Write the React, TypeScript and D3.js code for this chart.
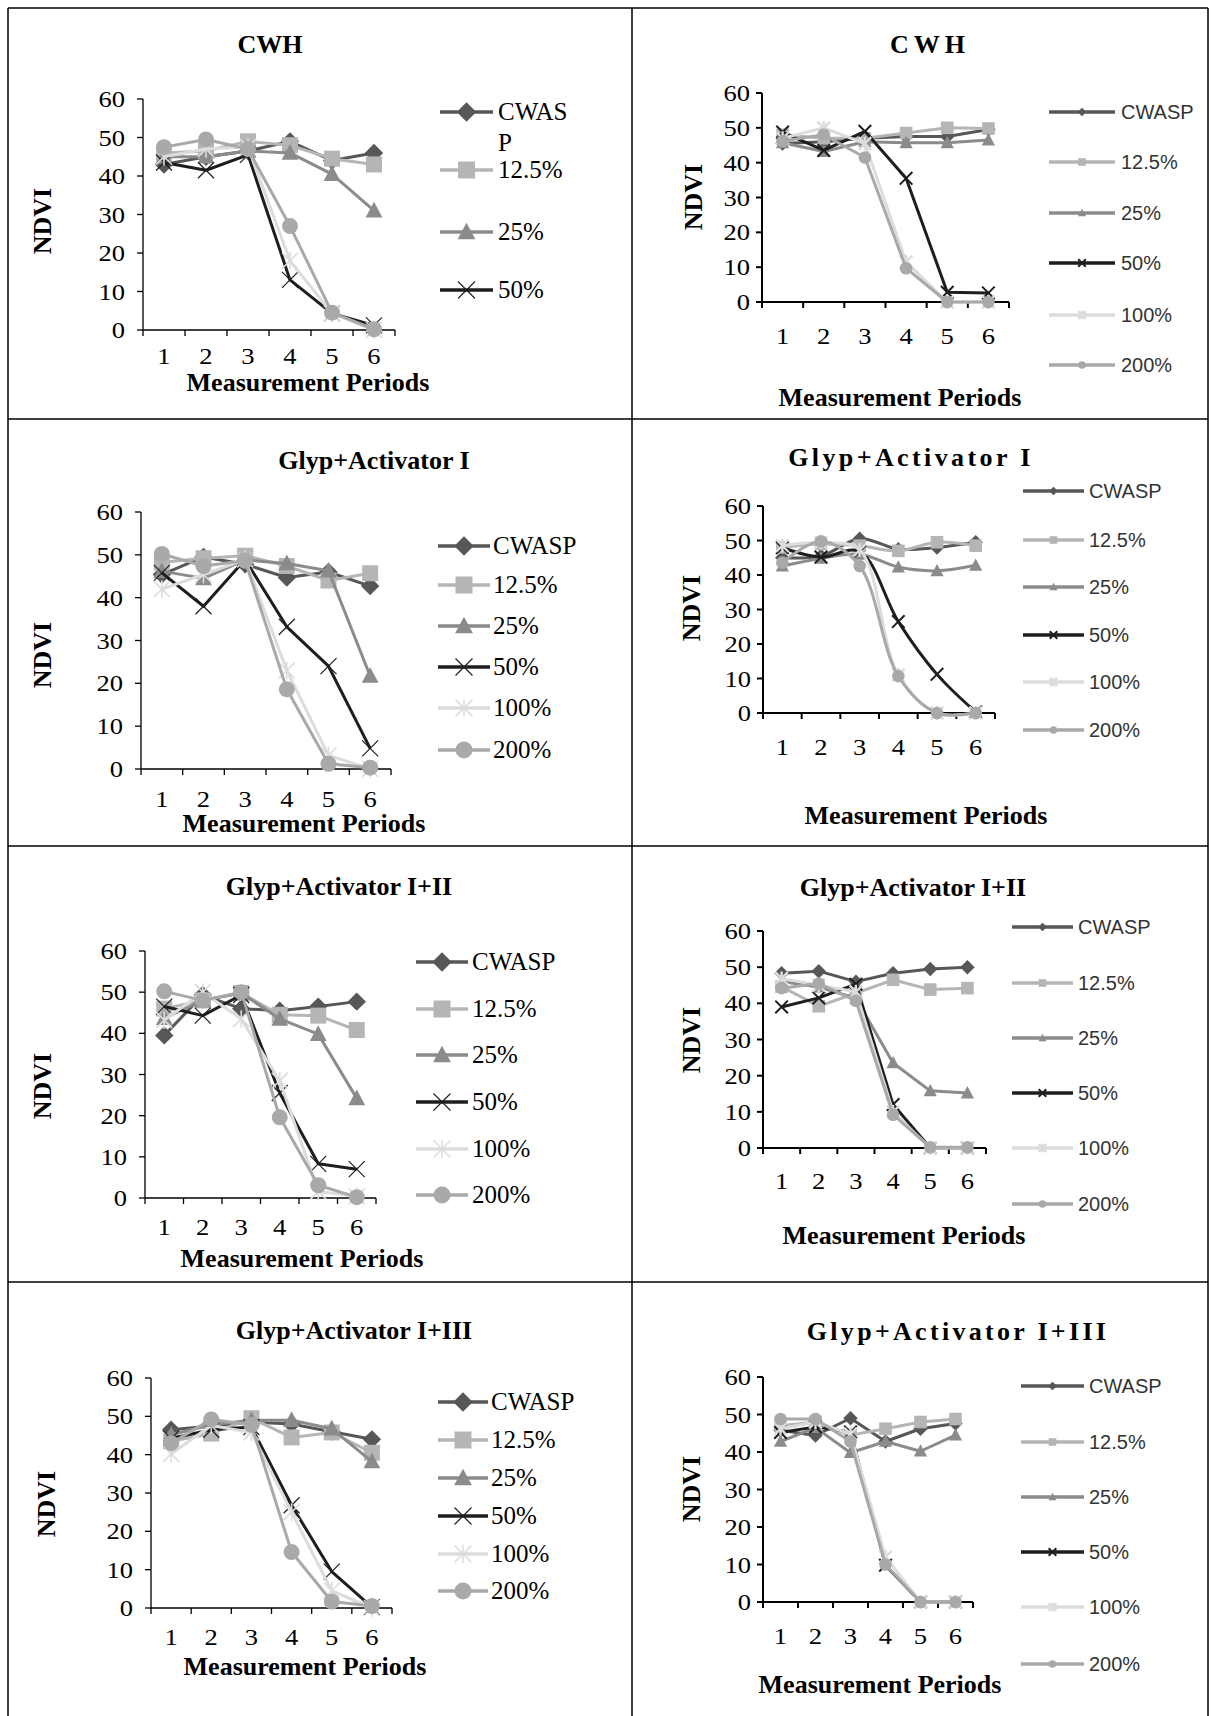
import React from "react";
import * as d3 from "d3";

const periods = [1, 2, 3, 4, 5, 6];
const yTicks = [0, 10, 20, 30, 40, 50, 60];
const seriesNames = ["CWASP", "12.5%", "25%", "50%", "100%", "200%"];
const seriesColors = ["#575757", "#b5b5b5", "#8b8b8b", "#1e1e1e", "#dcdcdc", "#a9a9a9"];
const seriesShapes = ["diamond", "square", "triangle", "x", "asterisk", "circle"];

// NDVI values, one row per series (CWASP, 12.5%, 25%, 50%, 100%, 200%)
const cwhA = [
  [43, 45, 46.5, 49, 44, 46],
  [46, 46.5, 49, 48, 44.5, 43],
  [45, 45, 46.5, 46, 40.5, 31],
  [43.5, 41.5, 45.5, 13, 4.3, 1.2],
  [45, 47, 47.5, 18, 4.3, 0],
  [47.5, 49.5, 47, 27, 4.5, 0.2],
];
const cwhB = [
  [45.5, 46, 47, 47.5, 47.5, 49.5],
  [48, 47, 47, 48.5, 50, 49.8],
  [45.7, 43.2, 46, 45.7, 45.7, 46.5],
  [48.8, 43.5, 49, 35.5, 2.8, 2.6],
  [47, 50, 45.5, 11.5, 0, 0],
  [46.2, 48, 41.5, 9.7, 0, 0],
];
const act1A = [
  [45.4, 49.5, 47.8, 44.7, 46, 42.7],
  [48.2, 49.2, 49.8, 47.4, 44, 45.7],
  [46.2, 44.5, 48.8, 48, 46.3, 21.7],
  [45.8, 38, 48.9, 33.2, 24, 4.8],
  [42, 45.4, 48.9, 23, 3.2, 0],
  [50.2, 47.4, 48.6, 18.6, 1.2, 0.3],
];
const act1B = [
  [45, 45.5, 50.5, 47.5, 48, 49.5],
  [48, 49, 48.5, 47, 49.5, 48.5],
  [42.6, 44.8, 46, 42.3, 41.2, 42.8],
  [47.9, 45.2, 46.8, 26.5, 11.2, 0.3],
  [48.5, 49.4, 47.2, 11, 0, 0],
  [43.6, 49.8, 42.6, 10.7, 0, 0],
];
const act12A = [
  [39.5, 49.3, 46, 45.5, 46.5, 47.7],
  [46, 48, 49.8, 44.5, 44.3, 40.8],
  [43.7, 48, 49.8, 43.5, 39.8, 24.2],
  [46.5, 44.3, 49.3, 25.5, 8.3, 7],
  [43.2, 50, 43.5, 28.5, 1.6, 0.4],
  [50.2, 48, 50, 19.6, 3.1, 0.2],
];
const act12B = [
  [48.3, 48.9, 46, 48.3, 49.5, 50],
  [44.6, 39.2, 42.8, 46.5, 43.8, 44.2],
  [46, 44.5, 41.4, 23.5, 15.8, 15.2],
  [39, 41.5, 45.3, 12, 0, 0],
  [46.9, 45, 43.2, 10, 0, 0],
  [44.2, 45.5, 40.7, 9.2, 0.2, 0.2],
];
const act13A = [
  [46.5, 47.5, 48.5, 48, 46, 44],
  [43.5, 45.5, 49.5, 44.5, 45.8, 40.5],
  [45.2, 47.8, 49, 49, 46.8, 38.2],
  [44.2, 46.5, 47.2, 26.8, 9.5, 0.2],
  [40.2, 47.6, 45.8, 25, 4.5, 0],
  [43, 49.2, 47.8, 14.6, 1.7, 0.5],
];
const act13B = [
  [45.8, 44.4, 49, 42.8, 46.2, 47.6],
  [47, 48, 44.5, 46.2, 48, 48.8],
  [42.8, 46.5, 39.8, 42.8, 40.2, 44.5],
  [45.2, 46.7, 45.3, 9.8, 0, 0],
  [46.2, 48, 44.8, 12, 0, 0],
  [48.8, 48.8, 42.8, 10, 0, 0],
];

const titles = [
  "CWH", "CWH",
  "Glyp+Activator I", "Glyp+Activator I",
  "Glyp+Activator I+II", "Glyp+Activator I+II",
  "Glyp+Activator I+III", "Glyp+Activator I+III",
];
const panelData = [cwhA, cwhB, act1A, act1B, act12A, act12B, act13A, act13B];

// layout (positions / styles only)
const layouts = [
  { side: "L", titleX: 270, titleY: 53, spacing: 0, x0: 143, x1: 395, yTop: 99, yBot: 330, ndviX: 42, ndviY: 221, xlabY: 364, mpX: 308, mpY: 391, legX0: 440, legX1: 493, legTextX: 498, legYs: [112, 170, 232, 290], legCount: 4, wrap: true, smooth: false },
  { side: "R", titleX: 930, titleY: 53, spacing: 5, x0: 762, x1: 1009, yTop: 93, yBot: 302, ndviX: 693, ndviY: 197, xlabY: 344, mpX: 900, mpY: 406, legX0: 1049, legX1: 1115, legTextX: 1121, legYs: [112, 162, 213, 263, 315, 365], legCount: 6, wrap: false, smooth: false },
  { side: "L", titleX: 374, titleY: 469, spacing: 0, x0: 141, x1: 391, yTop: 512, yBot: 769, ndviX: 42, ndviY: 655, xlabY: 807, mpX: 304, mpY: 832, legX0: 438, legX1: 490, legTextX: 493, legYs: [546, 585, 626, 667, 708, 750], legCount: 6, wrap: false, smooth: false },
  { side: "R", titleX: 911, titleY: 466, spacing: 3.4, x0: 763, x1: 995, yTop: 506, yBot: 713, ndviX: 691, ndviY: 608, xlabY: 755, mpX: 926, mpY: 824, legX0: 1023, legX1: 1084, legTextX: 1089, legYs: [491, 540, 587, 635, 682, 730], legCount: 6, wrap: false, smooth: true },
  { side: "L", titleX: 339, titleY: 895, spacing: 0, x0: 145, x1: 376, yTop: 951, yBot: 1198, ndviX: 42, ndviY: 1086, xlabY: 1235, mpX: 302, mpY: 1267, legX0: 416, legX1: 468, legTextX: 472, legYs: [962, 1009, 1055, 1102, 1149, 1195], legCount: 6, wrap: false, smooth: false },
  { side: "R", titleX: 913, titleY: 896, spacing: 0, x0: 763, x1: 986, yTop: 931, yBot: 1148, ndviX: 691, ndviY: 1040, xlabY: 1189, mpX: 904, mpY: 1244, legX0: 1012, legX1: 1073, legTextX: 1078, legYs: [927, 983, 1038, 1093, 1148, 1204], legCount: 6, wrap: false, smooth: false },
  { side: "L", titleX: 354, titleY: 1339, spacing: 0, x0: 151, x1: 392, yTop: 1378, yBot: 1608, ndviX: 46, ndviY: 1504, xlabY: 1645, mpX: 305, mpY: 1675, legX0: 438, legX1: 488, legTextX: 491, legYs: [1402, 1440, 1478, 1516, 1554, 1591], legCount: 6, wrap: false, smooth: false },
  { side: "R", titleX: 958, titleY: 1340, spacing: 3.3, x0: 763, x1: 973, yTop: 1377, yBot: 1602, ndviX: 691, ndviY: 1489, xlabY: 1644, mpX: 880, mpY: 1693, legX0: 1021, legX1: 1084, legTextX: 1089, legYs: [1386, 1442, 1497, 1552, 1607, 1664], legCount: 6, wrap: false, smooth: false },
];

const SERIF = "'Liberation Serif', 'Times New Roman', serif";
const SANS = "'Liberation Sans', Arial, sans-serif";

function Marker({ shape, cx, cy, h, color, sw }: any) {
  if (shape === "diamond") {
    const k = h * 1.15;
    return <path d={`M${cx},${cy - k}L${cx + k},${cy}L${cx},${cy + k}L${cx - k},${cy}Z`} fill={color} />;
  }
  if (shape === "square") return <rect x={cx - h} y={cy - h} width={2 * h} height={2 * h} fill={color} />;
  if (shape === "triangle")
    return <path d={`M${cx},${cy - h * 1.1}L${cx + h * 1.05},${cy + h * 0.85}L${cx - h * 1.05},${cy + h * 0.85}Z`} fill={color} />;
  if (shape === "x")
    return <path d={`M${cx - h},${cy - h}L${cx + h},${cy + h}M${cx - h},${cy + h}L${cx + h},${cy - h}`} stroke={color} strokeWidth={sw} fill="none" />;
  if (shape === "asterisk")
    return (
      <path
        d={`M${cx - h},${cy - h}L${cx + h},${cy + h}M${cx - h},${cy + h}L${cx + h},${cy - h}M${cx},${cy - h * 1.1}L${cx},${cy + h * 1.1}`}
        stroke={color}
        strokeWidth={sw + 0.4}
        fill="none"
      />
    );
  return <circle cx={cx} cy={cy} r={h} fill={color} />;
}

function Panel({ idx }: { idx: number }) {
  const L: any = layouts[idx];
  const data = panelData[idx];
  const left = L.side === "L";
  const x = d3.scaleBand<number>().domain(periods).range([L.x0, L.x1]).padding(0);
  const bw = x.bandwidth();
  const cx = (p: number) => (x(p) as number) + bw / 2;
  const y = d3.scaleLinear().domain([0, 60]).range([L.yBot, L.yTop]);
  const line = d3
    .line<number>()
    .x((_, i) => cx(periods[i]))
    .y((v) => y(v))
    .curve(L.smooth ? d3.curveCatmullRom.alpha(0.5) : d3.curveLinear);
  const hPlot = left ? 8 : 6.3;
  const hLeg = left ? 8.5 : 3.8;
  const lw = 3;
  const axisW = left ? 1.3 : 2;
  const tickEdges = [...periods.map((p) => x(p) as number), L.x1];
  const tickLabX = L.x0 - (left ? 18 : 12);

  return (
    <g>
      <text x={L.titleX} y={L.titleY} textAnchor="middle" fontFamily={SERIF} fontWeight="bold" fontSize={26} letterSpacing={L.spacing}>
        {titles[idx]}
      </text>
      <text transform={`translate(${L.ndviX + 9},${L.ndviY}) rotate(-90)`} textAnchor="middle" fontFamily={SERIF} fontWeight="bold" fontSize={26}>
        NDVI
      </text>
      {/* y axis */}
      <line x1={L.x0} x2={L.x0} y1={y(60)} y2={y(0)} stroke="#000" strokeWidth={axisW} />
      {yTicks.map((t) => (
        <g key={t}>
          <line x1={L.x0 - 6} x2={L.x0} y1={y(t)} y2={y(t)} stroke="#000" strokeWidth={axisW} />
          <text transform={`translate(${tickLabX},${y(t) + 8}) scale(1.18,1)`} textAnchor="end" fontFamily={SERIF} fontSize={22.5}>
            {t}
          </text>
        </g>
      ))}
      {/* x axis */}
      <line x1={L.x0} x2={L.x1} y1={y(0)} y2={y(0)} stroke="#000" strokeWidth={axisW} />
      {tickEdges.map((tx, i) => (
        <line key={i} x1={tx} x2={tx} y1={y(0)} y2={y(0) + 6} stroke="#000" strokeWidth={axisW} />
      ))}
      {periods.map((p) => (
        <text key={p} transform={`translate(${cx(p)},${L.xlabY}) scale(1.18,1)`} textAnchor="middle" fontFamily={SERIF} fontSize={22.5}>
          {p}
        </text>
      ))}
      <text x={L.mpX} y={L.mpY} textAnchor="middle" fontFamily={SERIF} fontWeight="bold" fontSize={26}>
        Measurement Periods
      </text>
      {/* series */}
      {data.map((vals, s) => (
        <g key={s}>
          <path d={line(vals) as string} fill="none" stroke={seriesColors[s]} strokeWidth={lw} strokeLinejoin="round" />
          {vals.map((v, i) => (
            <Marker key={i} shape={seriesShapes[s]} cx={cx(periods[i])} cy={y(v)} h={hPlot} color={seriesColors[s]} sw={left ? 1.2 : 2} />
          ))}
        </g>
      ))}
      {/* legend */}
      {seriesNames.slice(0, L.legCount).map((name, s) => {
        const ly = L.legYs[s];
        const mx = (L.legX0 + L.legX1) / 2;
        return (
          <g key={name}>
            <line x1={L.legX0} x2={L.legX1} y1={ly} y2={ly} stroke={seriesColors[s]} strokeWidth={lw + 0.5} />
            <Marker shape={seriesShapes[s]} cx={mx} cy={ly} h={hLeg} color={seriesColors[s]} sw={left ? 1.1 : 2} />
            {left ? (
              L.wrap && s === 0 ? (
                <text x={L.legTextX} y={ly + 8} fontFamily={SERIF} fontSize={25}>
                  <tspan x={L.legTextX}>{name.slice(0, 4)}</tspan>
                  <tspan x={L.legTextX} dy={31}>
                    {name.slice(4)}
                  </tspan>
                </text>
              ) : (
                <text x={L.legTextX} y={ly + 8} fontFamily={SERIF} fontSize={25}>
                  {name}
                </text>
              )
            ) : (
              <text x={L.legTextX} y={ly + 7} fontFamily={SANS} fontSize={20} fill="#333">
                {name}
              </text>
            )}
          </g>
        );
      })}
    </g>
  );
}

export default function App() {
  const W = 1211;
  const H = 1716;
  const colX = [8, 632, 1208];
  const rowY = [8, 419, 846, 1282];
  return (
    <svg width={W} height={H} style={{ position: "absolute", left: 0, top: 0, background: "#fff" }}>
      <rect x={0} y={0} width={W} height={H} fill="#fff" />
      {colX.map((cxv, i) => (
        <line key={"v" + i} x1={cxv} x2={cxv} y1={rowY[0]} y2={H} stroke="#000" strokeWidth={1.5} />
      ))}
      {rowY.map((ry, i) => (
        <line key={"h" + i} x1={colX[0]} x2={colX[2]} y1={ry} y2={ry} stroke="#000" strokeWidth={1.5} />
      ))}
      {layouts.map((_, i) => (
        <Panel key={i} idx={i} />
      ))}
    </svg>
  );
}
